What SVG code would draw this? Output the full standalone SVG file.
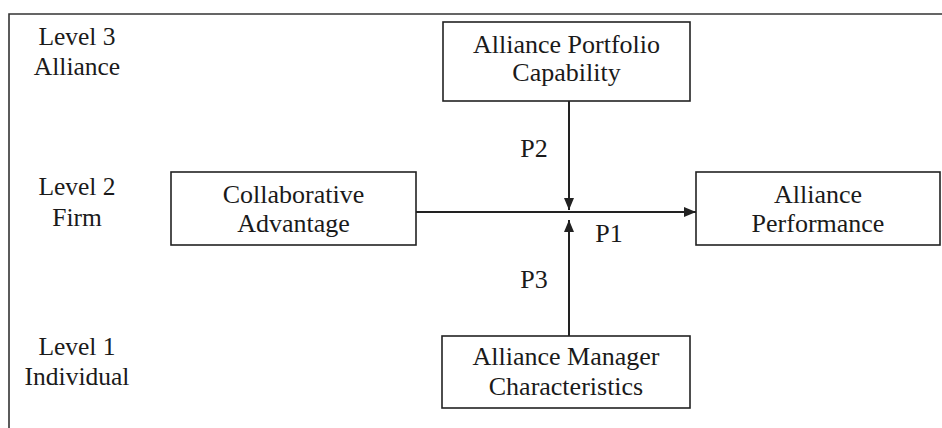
<svg xmlns="http://www.w3.org/2000/svg" width="942" height="428" viewBox="0 0 942 428">
<style>
text{font-family:'Liberation Serif','Tinos','Times New Roman',Times,'DejaVu Serif',serif;fill:#1a1a1a;text-anchor:middle}
.n{font-size:26px}
.l{font-size:25.5px}
.box{fill:#fff;stroke:#222;stroke-width:1.6}
.c{stroke:#222;stroke-width:2;fill:none}
</style>
<defs>
<marker id="ah" viewBox="0 0 12 10" refX="12" refY="5" markerWidth="12" markerHeight="10" markerUnits="userSpaceOnUse" orient="auto">
<path d="M0,0 L12,5 L0,10 Z" fill="#222"/>
</marker>
</defs>
<rect width="942" height="428" fill="#fff"/>
<g id="frame"><path d="M9,428 V14 H942" fill="none" stroke="#333" stroke-width="1.6"/></g>
<g id="levels" font-family="Liberation Serif, serif">
<text class="l" x="77" y="45">Level 3</text>
<text class="l" x="77" y="75">Alliance</text>
<text class="l" x="77" y="195">Level 2</text>
<text class="l" x="77" y="226">Firm</text>
<text class="l" x="77" y="355">Level 1</text>
<text class="l" x="77" y="385">Individual</text>
</g>
<g id="portfolio">
<rect class="box" x="443" y="22" width="247" height="79"/>
<text class="n" x="566.5" y="53">Alliance Portfolio</text>
<text class="n" x="566.5" y="81">Capability</text>
</g>
<g id="collab">
<rect class="box" x="171" y="172" width="245" height="73"/>
<text class="n" x="293.5" y="203">Collaborative</text>
<text class="n" x="293.5" y="232">Advantage</text>
</g>
<g id="performance">
<rect class="box" x="696" y="172" width="244" height="73"/>
<text class="n" x="818" y="203">Alliance</text>
<text class="n" x="818" y="232">Performance</text>
</g>
<g id="manager">
<rect class="box" x="442" y="336" width="248" height="72"/>
<text class="n" x="566" y="365">Alliance Manager</text>
<text class="n" x="566" y="395">Characteristics</text>
</g>
<g id="connectors">
<line class="c" x1="416" y1="212" x2="696" y2="212" marker-end="url(#ah)"/>
<line class="c" x1="569" y1="101" x2="569" y2="210" marker-end="url(#ah)"/>
<line class="c" x1="569" y1="336" x2="569" y2="220" marker-end="url(#ah)"/>
<text class="n" x="534" y="157">P2</text>
<text class="n" x="609" y="242">P1</text>
<text class="n" x="534" y="288">P3</text>
</g>
</svg>
